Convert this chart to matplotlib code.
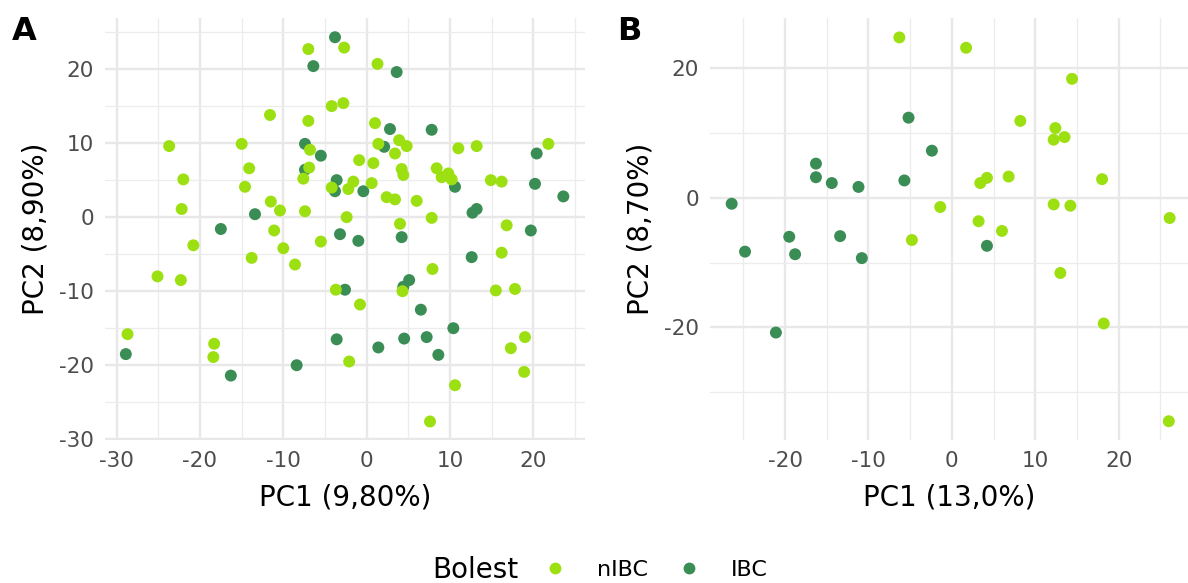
import matplotlib
matplotlib.use("Agg")
import matplotlib.pyplot as plt
from matplotlib.lines import Line2D
from matplotlib.ticker import MultipleLocator

plt.rcParams["axes.unicode_minus"] = False

# PCA scores, panel A
a_nibc_x = [-7.0, -2.7, 1.3, -11.6, -7.0, -4.2, -2.8, 1.0, -23.7, -15.0, -6.8, 1.4,
            3.9, 4.8, 3.4, 11.0, 13.2, 21.8, -0.9, 0.8, 8.4, 4.2, 4.4, 9.0, 9.8, 10.2,
            14.9, 16.2, -14.1, -22.0, -14.6, -6.9, -7.6, -4.2, -2.2, -1.6, 0.6, 2.4,
            3.4, 6.0, -22.2, -11.5, -10.4, -7.4, -2.4, 4.0, 7.8, 16.8, -11.1, -20.8,
            -10.0, -5.5, -13.8, -8.6, -25.1, -22.3, 16.2, 7.9, -3.7, 4.3, 15.5, 17.8,
            -0.8, 19.0, 17.3, -2.1, 18.9, 10.6, 7.6, -28.7, -18.3, -18.4]
a_nibc_y = [22.7, 22.9, 20.7, 13.8, 13.0, 15.0, 15.4, 12.7, 9.6, 9.9, 9.1, 9.9,
            10.4, 9.6, 8.6, 9.3, 9.6, 9.9, 7.7, 7.3, 6.6, 6.5, 5.7, 5.4, 5.9, 5.1,
            5.0, 4.8, 6.6, 5.1, 4.1, 6.7, 5.2, 4.0, 3.8, 4.8, 4.6, 2.7,
            2.4, 2.2, 1.1, 2.1, 0.9, 0.8, 0.0, -0.9, -0.1, -1.1, -1.8, -3.8,
            -4.2, -3.3, -5.5, -6.4, -8.0, -8.5, -4.8, -7.0, -9.8, -10.0, -9.9, -9.7,
            -11.8, -16.2, -17.7, -19.5, -20.9, -22.7, -27.6, -15.8, -17.1, -18.9]
a_ibc_x = [-3.8, -6.4, 3.6, 2.8, 7.8, -7.4, -5.5, 2.1, 20.4, -7.4, 10.6, 20.2, 23.6,
           -3.6, -3.8, -0.4, 12.7, 13.2, 19.7, -13.4, -17.5, -3.2, -1.0, 4.2, 12.6,
           -2.6, 4.4, 5.1, 6.5, 10.4, -3.6, 1.4, 4.5, 7.2, 8.6, -8.4, -28.9, -16.3]
a_ibc_y = [24.3, 20.4, 19.6, 11.9, 11.8, 9.9, 8.3, 9.5, 8.6, 6.4, 4.1, 4.5, 2.8,
           5.0, 3.5, 3.5, 0.6, 1.1, -1.8, 0.4, -1.6, -2.3, -3.2, -2.7, -5.4,
           -9.8, -9.4, -8.5, -12.5, -15.0, -16.5, -17.6, -16.4, -16.2, -18.6, -20.0, -18.5, -21.4]

# PCA scores, panel B
b_nibc_x = [-6.3, 1.7, 14.4, 8.2, 12.4, 13.5, 12.2, 4.2, 3.4, 6.8, 18.0, -1.4, 12.2,
            14.2, 26.1, 3.2, 6.0, -4.8, 13.0, 18.2, 26.0]
b_nibc_y = [24.8, 23.2, 18.4, 11.9, 10.8, 9.4, 9.0, 3.1, 2.3, 3.3, 2.9, -1.4, -1.0,
            -1.2, -3.1, -3.6, -5.1, -6.5, -11.6, -19.4, -34.5]
b_ibc_x = [-5.2, -16.3, -16.3, -14.4, -11.2, -5.7, -2.4, -26.4, -19.5, -13.4, -24.8,
           -18.8, -10.8, -21.1, 4.2]
b_ibc_y = [12.4, 5.3, 3.2, 2.3, 1.7, 2.7, 7.3, -0.9, -6.0, -5.9, -8.3, -8.7, -9.3,
           -20.8, -7.4]

groups = ["nIBC", "IBC"]
colors = {"nIBC": "#9de012", "IBC": "#3a8d54"}

W, H = 1188, 583
fig = plt.figure(figsize=(W / 100, H / 100), dpi=100)

def px_box(left, top, right, bottom):
    return [left / W, 1 - bottom / H, (right - left) / W, (bottom - top) / H]

ax_a = fig.add_axes(px_box(105, 18, 585, 440))
ax_b = fig.add_axes(px_box(710, 18, 1188, 440))

def style(ax, xmaj, ymaj):
    ax.set_facecolor("white")
    for s in ax.spines.values():
        s.set_visible(False)
    ax.xaxis.set_major_locator(MultipleLocator(xmaj))
    ax.xaxis.set_minor_locator(MultipleLocator(xmaj / 2))
    ax.yaxis.set_major_locator(MultipleLocator(ymaj))
    ax.yaxis.set_minor_locator(MultipleLocator(ymaj / 2))
    ax.grid(which="major", color="#e8e8e8", linewidth=1.7)
    ax.grid(which="minor", color="#ececec", linewidth=0.9)
    ax.set_axisbelow(True)
    ax.tick_params(which="both", length=0, labelsize=15.5, labelcolor="#4d4d4d", pad=8)

ax_a.scatter(a_ibc_x, a_ibc_y, s=74, color=colors["IBC"], edgecolors="none", zorder=3)
ax_a.scatter(a_nibc_x, a_nibc_y, s=74, color=colors["nIBC"], edgecolors="none", zorder=3)
ax_a.set_xlim(-31.4, 26.2)
ax_a.set_ylim(-30.1, 26.9)
style(ax_a, 10, 10)
ax_a.set_xlabel("PC1 (9,80%)", fontsize=20, labelpad=9)
ax_a.set_ylabel("PC2 (8,90%)", fontsize=20, labelpad=7)

ax_b.scatter(b_ibc_x, b_ibc_y, s=74, color=colors["IBC"], edgecolors="none", zorder=3)
ax_b.scatter(b_nibc_x, b_nibc_y, s=74, color=colors["nIBC"], edgecolors="none", zorder=3)
ax_b.set_xlim(-29.0, 28.3)
ax_b.set_ylim(-37.4, 27.8)
style(ax_b, 10, 20)
ax_b.set_xlabel("PC1 (13,0%)", fontsize=20, labelpad=9)
ax_b.set_ylabel("PC2 (8,70%)", fontsize=20, labelpad=7)

fig.text(12 / W, 1 - 32 / H, "A", fontsize=23, fontweight="bold", va="center", ha="left")
fig.text(617 / W, 1 - 32 / H, "B", fontsize=23, fontweight="bold", va="center", ha="left")

# legend at the bottom
fig.text(432 / W, 1 - 570 / H, "Bolest", fontsize=20, va="center", ha="left")
handles = [Line2D([], [], linestyle="none", marker="o", markersize=8.5,
                  markerfacecolor=colors[g], markeredgecolor="none") for g in groups]
fig.legend(handles, groups, loc="center left", bbox_to_anchor=(533 / W, 1 - 570 / H),
           ncol=2, frameon=False, fontsize=16, handlelength=2.0, handletextpad=0.89,
           columnspacing=0.85, borderpad=0, borderaxespad=0)

fig.savefig("out.png", dpi=100, facecolor="white")
